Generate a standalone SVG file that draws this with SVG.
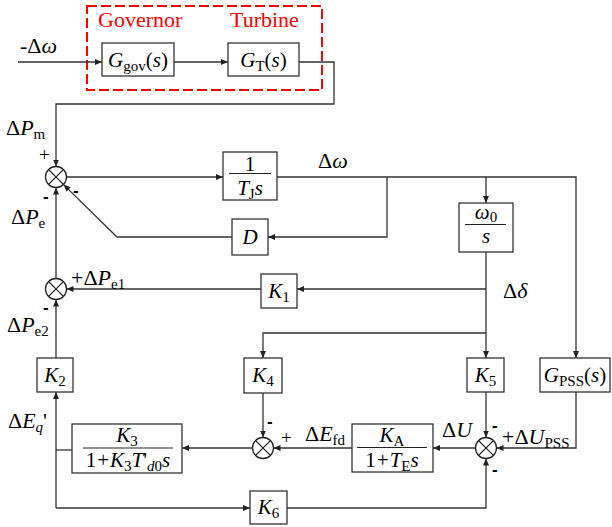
<svg xmlns="http://www.w3.org/2000/svg" width="612" height="527" viewBox="0 0 612 527" font-family="Liberation Serif, Times New Roman, serif">
<defs>
<style>
text{font-family:"Liberation Serif","Times New Roman",serif;fill:#000;}
.lbl{font-size:22px;}
.bx{font-size:21px;}
.i{font-style:italic;}
.sub{font-size:15px;}
.red{fill:#f00;font-size:22px;}
.box{fill:#fff;stroke:#333;stroke-width:1.3;}
.ln{fill:none;stroke:#333;stroke-width:1.3;}
.sum circle{fill:#fff;stroke:#222;stroke-width:1.3;}
.sum line{stroke:#222;stroke-width:1.3;}
.sg{font-family:"Liberation Sans",Arial,sans-serif;font-weight:bold;font-size:17px;}
.pl{font-size:19px;}
.fr{stroke:#222;stroke-width:1.2;}
</style>
<marker id="ah" markerWidth="8" markerHeight="6" refX="7" refY="3" orient="auto" markerUnits="userSpaceOnUse"><path d="M0,0 L7,3 L0,6 z" fill="#222"/></marker>
</defs>
<rect width="612" height="527" fill="#fff"/>

<g id="governor-turbine-group">
<rect x="87" y="6" width="235" height="84" fill="none" stroke="#f00" stroke-width="2" stroke-dasharray="10,4"/>
<text class="red" x="98" y="27">Governor</text>
<text class="red" x="230" y="27">Turbine</text>
</g>

<g id="connectors">
<path class="ln" d="M18,62 H102" marker-end="url(#ah)"/>
<path class="ln" d="M174,62 H228" marker-end="url(#ah)"/>
<path class="ln" d="M299,62 H334 V104 H56 V166.5" marker-end="url(#ah)"/>
<path class="ln" d="M66.5,177 H223" marker-end="url(#ah)"/>
<path class="ln" d="M277,177 H576 V358" marker-end="url(#ah)"/>
<path class="ln" d="M387,177 V237 H268" marker-end="url(#ah)"/>
<path class="ln" d="M232,237 H117 L63.6,184.6" marker-end="url(#ah)"/>
<path class="ln" d="M486,177 V203" marker-end="url(#ah)"/>
<path class="ln" d="M486,252 V358" marker-end="url(#ah)"/>
<path class="ln" d="M486,289 H297" marker-end="url(#ah)"/>
<path class="ln" d="M261,289 H66.5" marker-end="url(#ah)"/>
<path class="ln" d="M56,278.5 V187.5" marker-end="url(#ah)"/>
<path class="ln" d="M56,358 V299.5" marker-end="url(#ah)"/>
<path class="ln" d="M486,333 H263 V358" marker-end="url(#ah)"/>
<path class="ln" d="M263,393 V437.5" marker-end="url(#ah)"/>
<path class="ln" d="M352,448 H273.5" marker-end="url(#ah)"/>
<path class="ln" d="M252.5,448 H182" marker-end="url(#ah)"/>
<path class="ln" d="M475.5,448 H433" marker-end="url(#ah)"/>
<path class="ln" d="M486,392 V437.5" marker-end="url(#ah)"/>
<path class="ln" d="M576,392 V448 H496.5" marker-end="url(#ah)"/>
<path class="ln" d="M72,450 H56"/>
<path class="ln" d="M56,508 V392" marker-end="url(#ah)"/>
<path class="ln" d="M56,508 H250" marker-end="url(#ah)"/>
<path class="ln" d="M287,508 H486 V458.5" marker-end="url(#ah)"/>
</g>

<g id="Ggov">
<rect class="box" x="102" y="43" width="72" height="33"/>
<text class="bx" x="138" y="67" text-anchor="middle"><tspan class="i">G</tspan><tspan class="sub" dy="4">gov</tspan><tspan dy="-4">(</tspan><tspan class="i">s</tspan>)</text>
</g>
<g id="GT">
<rect class="box" x="228" y="43" width="71" height="33"/>
<text class="bx" x="263.5" y="67" text-anchor="middle"><tspan class="i">G</tspan><tspan class="sub" dy="4">T</tspan><tspan dy="-4">(</tspan><tspan class="i">s</tspan>)</text>
</g>

<g id="sum1" class="sum">
<circle cx="56" cy="177" r="10.5"/>
<line x1="48.6" y1="169.6" x2="63.4" y2="184.4"/><line x1="63.4" y1="169.6" x2="48.6" y2="184.4"/>
</g>
<g id="sum2" class="sum">
<circle cx="56" cy="289" r="10.5"/>
<line x1="48.6" y1="281.6" x2="63.4" y2="296.4"/><line x1="63.4" y1="281.6" x2="48.6" y2="296.4"/>
</g>
<g id="sum3" class="sum">
<circle cx="263" cy="448" r="10.5"/>
<line x1="255.6" y1="440.6" x2="270.4" y2="455.4"/><line x1="270.4" y1="440.6" x2="255.6" y2="455.4"/>
</g>
<g id="sum4" class="sum">
<circle cx="486" cy="448" r="10.5"/>
<line x1="478.6" y1="440.6" x2="493.4" y2="455.4"/><line x1="493.4" y1="440.6" x2="478.6" y2="455.4"/>
</g>

<g id="TJ">
<rect class="box" x="223" y="152" width="54" height="48"/>
<text class="bx" x="250" y="171" text-anchor="middle">1</text>
<line class="fr" x1="229" y1="173.5" x2="271" y2="173.5"/>
<text class="bx" x="250" y="195" text-anchor="middle"><tspan class="i">T</tspan><tspan class="sub" dy="4">J</tspan><tspan class="i" dy="-4">s</tspan></text>
</g>
<g id="D">
<rect class="box" x="232" y="219" width="36" height="36"/>
<text class="bx i" x="250" y="244" text-anchor="middle">D</text>
</g>
<g id="w0s">
<rect class="box" x="459" y="203" width="54" height="49"/>
<text class="bx" x="486" y="219" text-anchor="middle"><tspan class="i">ω</tspan><tspan class="sub" dy="3">0</tspan></text>
<line class="fr" x1="465" y1="224.5" x2="506" y2="224.5"/>
<text class="bx i" x="486" y="243" text-anchor="middle">s</text>
</g>
<g id="K1">
<rect class="box" x="261" y="274" width="36" height="34"/>
<text class="bx" x="279" y="298" text-anchor="middle"><tspan class="i">K</tspan><tspan class="sub" dy="4">1</tspan></text>
</g>
<g id="K2">
<rect class="box" x="37" y="358" width="36" height="34"/>
<text class="bx" x="55" y="382" text-anchor="middle"><tspan class="i">K</tspan><tspan class="sub" dy="4">2</tspan></text>
</g>
<g id="K4">
<rect class="box" x="244" y="358" width="38" height="35"/>
<text class="bx" x="263" y="382" text-anchor="middle"><tspan class="i">K</tspan><tspan class="sub" dy="4">4</tspan></text>
</g>
<g id="K5">
<rect class="box" x="467" y="358" width="37" height="34"/>
<text class="bx" x="485.5" y="382" text-anchor="middle"><tspan class="i">K</tspan><tspan class="sub" dy="4">5</tspan></text>
</g>
<g id="GPSS">
<rect class="box" x="540" y="358" width="70" height="34"/>
<text class="bx" x="575" y="382" text-anchor="middle"><tspan class="i">G</tspan><tspan class="sub" dy="4">PSS</tspan><tspan dy="-4">(</tspan><tspan class="i">s</tspan>)</text>
</g>
<g id="K3">
<rect class="box" x="72" y="424" width="110" height="49"/>
<text class="bx" x="127" y="442" text-anchor="middle"><tspan class="i">K</tspan><tspan class="sub" dy="4">3</tspan></text>
<line class="fr" x1="83" y1="448" x2="173" y2="448"/>
<text class="bx" x="128" y="467" text-anchor="middle">1<tspan dx="1">+</tspan><tspan class="i" dx="1">K</tspan><tspan class="sub" dy="4">3</tspan><tspan class="i" dy="-4">T</tspan>'<tspan class="sub i" dy="4">d</tspan><tspan class="sub">0</tspan><tspan class="i" dy="-4">s</tspan></text>
</g>
<g id="KA">
<rect class="box" x="352" y="424" width="81" height="48"/>
<text class="bx" x="392" y="442" text-anchor="middle"><tspan class="i">K</tspan><tspan class="sub" dy="4">A</tspan></text>
<line class="fr" x1="357" y1="447.5" x2="427" y2="447.5"/>
<text class="bx" x="392" y="467" text-anchor="middle">1<tspan dx="1">+</tspan><tspan class="i" dx="1">T</tspan><tspan class="sub" dy="4">E</tspan><tspan class="i" dy="-4">s</tspan></text>
</g>
<g id="K6">
<rect class="box" x="250" y="491" width="37" height="33"/>
<text class="bx" x="268.5" y="514" text-anchor="middle"><tspan class="i">K</tspan><tspan class="sub" dy="4">6</tspan></text>
</g>

<g id="labels">
<text class="lbl" x="20" y="53">-Δ<tspan class="i">ω</tspan></text>
<text class="lbl" x="6" y="135">Δ<tspan class="i">P</tspan><tspan class="sub" dy="4">m</tspan></text>
<text class="pl" x="39" y="161">+</text>
<text class="sg" x="43" y="202">-</text>
<text class="sg" x="73" y="196">-</text>
<text class="lbl" x="11" y="224">Δ<tspan class="i">P</tspan><tspan class="sub" dy="4">e</tspan></text>
<text class="lbl" x="71" y="285">+Δ<tspan class="i">P</tspan><tspan class="sub" dy="4">e1</tspan></text>
<text class="sg" x="43" y="313">-</text>
<text class="lbl" x="7" y="332">Δ<tspan class="i">P</tspan><tspan class="sub" dy="4">e2</tspan></text>
<text class="lbl" x="318" y="168">Δ<tspan class="i">ω</tspan></text>
<text class="lbl" x="503" y="298">Δ<tspan class="i">δ</tspan></text>
<text class="lbl" x="8" y="428">Δ<tspan class="i">E</tspan><tspan class="sub i" dy="4">q</tspan><tspan dy="-4">'</tspan></text>
<text class="sg" x="267" y="427">-</text>
<text class="pl" x="281" y="444">+</text>
<text class="lbl" x="305" y="441">Δ<tspan class="i">E</tspan><tspan class="sub" dy="4">fd</tspan></text>
<text class="lbl" x="442" y="437">Δ<tspan class="i">U</tspan></text>
<text class="sg" x="492" y="431">-</text>
<text class="lbl" x="502" y="444">+Δ<tspan class="i">U</tspan><tspan class="sub" dy="4">PSS</tspan></text>
<text class="sg" x="492" y="475">-</text>
</g>
</svg>
